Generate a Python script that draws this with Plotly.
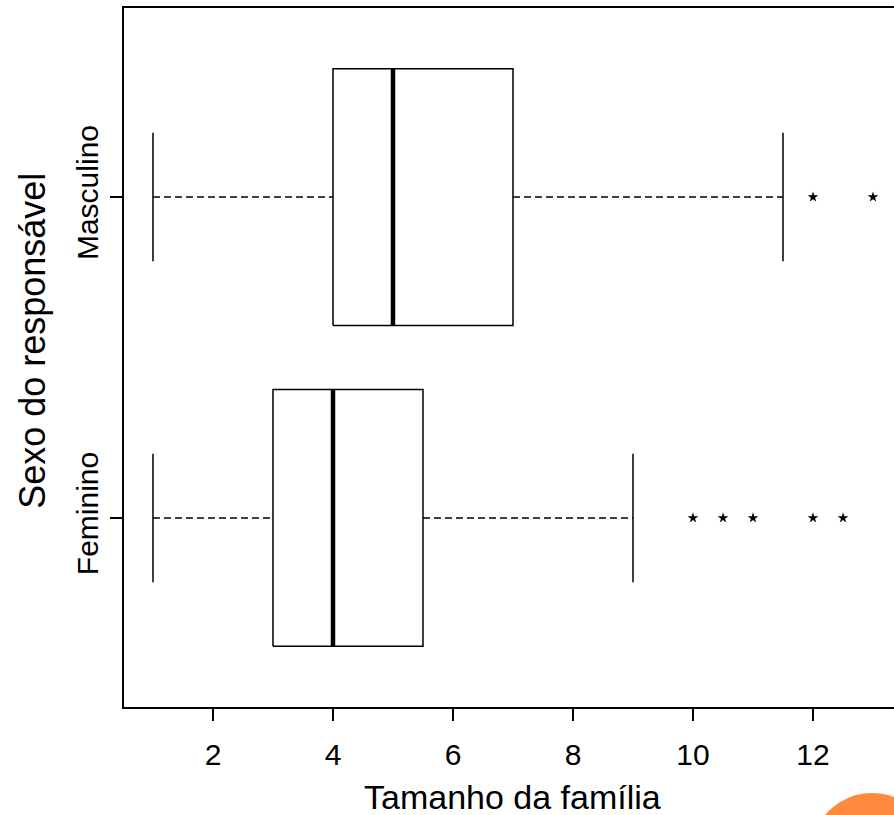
import plotly.graph_objects as go

# ---- data ----
groups = ["Feminino", "Masculino"]
positions = [1, 2]
q1 = [3.0, 4.0]
median = [4.0, 5.0]
q3 = [5.5, 7.0]
whisk_lo = [1.0, 1.0]
whisk_hi = [9.0, 11.5]
outliers = [[10.0, 10.5, 11.0, 12.0, 12.5], [12.0, 13.0]]

x_ticks = [2, 4, 6, 8, 10, 12]

HALF = 0.4      # half box height (category units)
STAPLE = 0.2    # half staple height

FONT = "Liberation Sans, Arial, Helvetica, sans-serif"

fig = go.Figure()
for i, g in enumerate(groups):
    c = positions[i]
    # whiskers (dashed)
    fig.add_trace(go.Scatter(
        x=[whisk_lo[i], q1[i], None, q3[i], whisk_hi[i]],
        y=[c, c, None, c, c], mode="lines",
        line=dict(color="black", width=1.5, dash="7px,4px"),
        hoverinfo="skip", showlegend=False))
    # staples
    fig.add_trace(go.Scatter(
        x=[whisk_lo[i], whisk_lo[i], None, whisk_hi[i], whisk_hi[i]],
        y=[c - STAPLE, c + STAPLE, None, c - STAPLE, c + STAPLE], mode="lines",
        line=dict(color="black", width=1.5),
        hoverinfo="skip", showlegend=False))
    # box
    fig.add_trace(go.Scatter(
        x=[q1[i], q3[i], q3[i], q1[i], q1[i]],
        y=[c - HALF, c - HALF, c + HALF, c + HALF, c - HALF], mode="lines",
        fill="toself", fillcolor="white",
        line=dict(color="black", width=1.5),
        hoverinfo="skip", showlegend=False))
    # median
    fig.add_trace(go.Scatter(
        x=[median[i], median[i]], y=[c - HALF, c + HALF], mode="lines",
        line=dict(color="black", width=4.5),
        hoverinfo="skip", showlegend=False))
    # outliers
    fig.add_trace(go.Scatter(
        x=outliers[i], y=[c] * len(outliers[i]), mode="markers",
        marker=dict(symbol="star", size=8, color="black"),
        hoverinfo="skip", showlegend=False))

fig.update_layout(
    width=894, height=815,
    margin=dict(l=124, r=0, t=8, b=108),
    paper_bgcolor="white", plot_bgcolor="white",
    font=dict(family=FONT, color="black"),
    xaxis=dict(range=[0.517, 13.35], tickvals=x_ticks, ticks="outside",
               ticklen=12, tickwidth=1.5, tickcolor="black",
               showline=True, linecolor="black", linewidth=2, mirror=True,
               showgrid=False, zeroline=False, ticklabelstandoff=8,
               tickfont=dict(size=30, family=FONT, color="black")),
    yaxis=dict(range=[0.411, 2.589], tickvals=positions, ticktext=groups,
               tickangle=-90, ticks="outside", ticklen=12, tickwidth=1.5,
               tickcolor="black", showline=True, linecolor="black", linewidth=2,
               showgrid=False, zeroline=False,
               tickfont=dict(size=30, family=FONT, color="black")),
    annotations=[
        dict(text="Tamanho da família", xref="paper", yref="paper",
             x=0.504, y=-0.129, xanchor="center", yanchor="middle",
             showarrow=False, font=dict(size=34, family=FONT, color="black")),
        dict(text="Sexo do responsável", xref="paper", yref="paper",
             x=-0.118, y=0.524, xanchor="center", yanchor="middle",
             textangle=-90, showarrow=False,
             font=dict(size=36, family=FONT, color="black")),
    ],
    shapes=[dict(type="circle", xref="paper", yref="paper",
                 x0=(811 - 124) / 770, x1=(933 - 124) / 770,
                 y0=(707 - 915) / 699, y1=(707 - 793) / 699,
                 fillcolor="#FF8A3D", line=dict(width=0), layer="above")],
)

fig.write_html("out.html")
